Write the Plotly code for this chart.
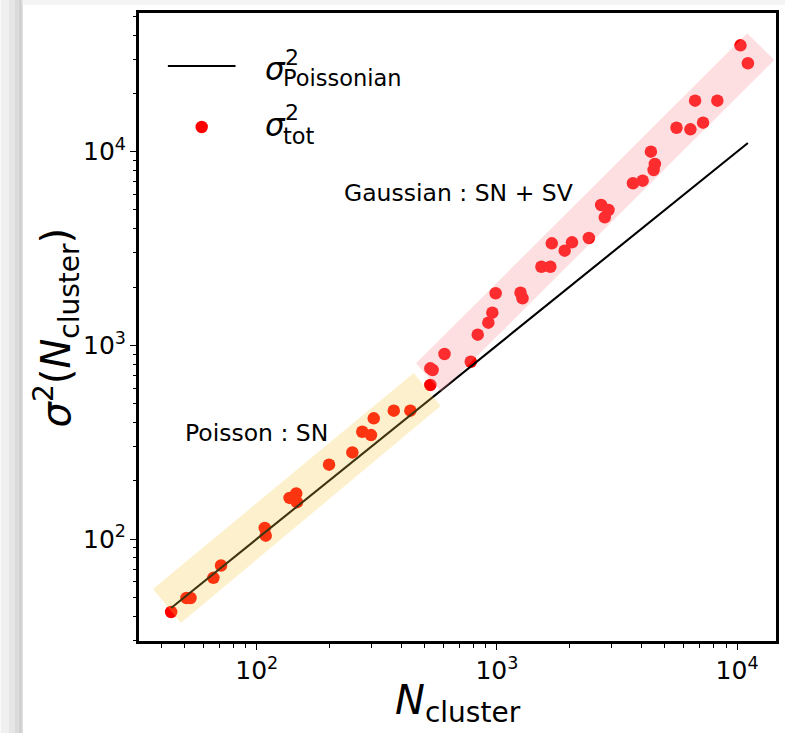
import numpy as np
import plotly.graph_objects as go

# Cluster counts and measured total variances
n_cluster = [44, 51, 53, 66, 71, 108, 109, 137, 146, 147, 200, 250, 275, 299, 307,
             372, 436, 528, 528, 540, 605,
             778, 832, 921, 957, 988, 1254, 1278, 1532, 1669, 1692, 1915, 2054,
             2415, 2716, 2915, 2813, 3686, 4044, 4377, 4547, 4491, 5594, 6392,
             6686, 7217, 8273, 10330, 11090]
sigma2_tot = [42, 49.6, 49.6, 63, 73, 114, 104, 163, 172, 155, 242, 280, 358, 344, 420,
              460, 460, 624, 761, 746, 902,
              823, 1135, 1309, 1475, 1857, 1870, 1750, 2547, 2547, 3365, 3083, 3405,
              3584, 5306, 5000, 4583, 6868, 7083, 10000, 8640, 8045, 13300, 13050,
              18340, 14120, 18340, 35430, 28610]

# Poisson expectation: variance equals the mean count
n_line = sorted(n_cluster)
sigma2_poisson = list(n_line)

regime_labels = ["Poisson : SN", "Gaussian : SN + SV"]
legend_subscripts = ["Poissonian", "tot"]

# Figure geometry (pixels)
W, H = 788, 733
L, R, T, B = 139, 779, 13, 641
PW, PH = R - L, B - T

def px(x):
    return (x - L) / PW

def py(y):
    return (B - y) / PH

FONT = "DejaVu Sans"

# Shaded regime bands, corners in log10 units (x, y)
band_poisson = [(1.5678, 1.7418), (1.6838, 1.5662), (2.7655, 2.6868), (2.6535, 2.8572)]
band_gauss = [(2.6631, 2.9073), (2.7683, 2.7607), (4.155, 4.4735), (4.0418, 4.6114)]

def band_trace(corners, color):
    xs = [10 ** c[0] for c in corners] + [10 ** corners[0][0]]
    ys = [10 ** c[1] for c in corners] + [10 ** corners[0][1]]
    return go.Scatter(x=xs, y=ys, mode="lines", fill="toself", fillcolor=color,
                      line=dict(width=0), hoverinfo="skip", showlegend=False)

fig = go.Figure()
fig.add_trace(go.Scatter(x=n_cluster, y=sigma2_tot, mode="markers",
                         marker=dict(color="red", size=12.5, line=dict(width=0)),
                         showlegend=False))
fig.add_trace(go.Scatter(x=n_line, y=sigma2_poisson, mode="lines",
                         line=dict(color="black", width=2.1), showlegend=False))
fig.add_trace(band_trace(band_poisson, "rgba(247,200,60,0.26)"))
fig.add_trace(band_trace(band_gauss, "rgba(247,150,157,0.30)"))

axis_common = dict(type="log", dtick=1, exponentformat="power", showgrid=False,
                   zeroline=False, showline=True, linecolor="black", linewidth=3,
                   mirror=True, ticks="outside", ticklen=6, tickwidth=1.3,
                   tickcolor="black", tickfont=dict(family=FONT, size=20, color="black"),
                   minor=dict(ticks="outside", ticklen=3.5, tickwidth=1,
                              tickcolor="black", dtick="D1", showgrid=False))

fig.update_layout(
    width=W, height=H, autosize=False,
    margin=dict(l=L, r=W - R, t=T, b=H - B),
    paper_bgcolor="white", plot_bgcolor="white",
    xaxis=dict(range=[1.5097, 4.1620], **axis_common),
    yaxis=dict(range=[1.4733, 4.7162], **axis_common),
    font=dict(family=FONT, color="black"),
)

ann = []
# axis titles
ann.append(dict(text="<i>σ</i><sup>2</sup>(<i>N</i><sub>cluster</sub>)",
                x=px(56), y=py(327), xref="paper", yref="paper", textangle=-90,
                showarrow=False, xanchor="center", yanchor="middle",
                font=dict(family=FONT, size=40)))
ann.append(dict(text="<i>N</i><sub>cluster</sub>", x=px(460), y=py(703),
                xref="paper", yref="paper", showarrow=False,
                xanchor="center", yanchor="middle", font=dict(family=FONT, size=40)))
# regime labels
ann.append(dict(text=regime_labels[0], x=px(183), y=py(433), xref="paper", yref="paper",
                showarrow=False, xanchor="left", yanchor="middle",
                font=dict(family=FONT, size=23.5)))
ann.append(dict(text=regime_labels[1], x=px(577), y=py(193), xref="paper", yref="paper",
                showarrow=False, xanchor="right", yanchor="middle",
                font=dict(family=FONT, size=23.5)))

# legend entries: sigma symbol with stacked super/subscript
for (sym_y, sup_y, sub_y), sub in zip([(69, 57.5, 78), (125, 112.5, 136)],
                                      legend_subscripts):
    ann.append(dict(text="<i>σ</i>", x=px(276), y=py(sym_y), xref="paper", yref="paper",
                    showarrow=False, xanchor="center", yanchor="middle",
                    font=dict(family=FONT, size=31)))
    ann.append(dict(text="2", x=px(284), y=py(sup_y), xref="paper", yref="paper",
                    showarrow=False, xanchor="left", yanchor="middle",
                    font=dict(family=FONT, size=22)))
    ann.append(dict(text=sub, x=px(282), y=py(sub_y), xref="paper", yref="paper",
                    showarrow=False, xanchor="left", yanchor="middle",
                    font=dict(family=FONT, size=22.5)))

shapes = []
# legend line sample
shapes.append(dict(type="line", xref="paper", yref="paper", x0=px(168), x1=px(236),
                   y0=py(66), y1=py(66), line=dict(color="black", width=2.1)))
# legend marker sample
shapes.append(dict(type="circle", xref="paper", yref="paper", xsizemode="pixel",
                   ysizemode="pixel", xanchor=px(202), yanchor=py(127),
                   x0=-6.2, x1=6.2, y0=-6.2, y1=6.2, fillcolor="red",
                   line=dict(width=0)))
# page shadow at the left/top edge
shade = [(0, 8, "#f0f0f0"), (8, 14, "#e6e6e6"), (14, 18, "#dadada"), (18, 21, "#cfcfcf"),
         (21, 22, "#c4c4c4")]
for x0, x1, c in shade:
    shapes.append(dict(type="rect", xref="paper", yref="paper", x0=px(x0), x1=px(x1),
                       y0=py(H), y1=py(0), fillcolor=c, line=dict(width=0), layer="above"))
shapes.append(dict(type="rect", xref="paper", yref="paper", x0=px(22), x1=px(W),
                   y0=py(5), y1=py(0), fillcolor="#f4f4f4", line=dict(width=0),
                   layer="above"))

fig.update_layout(annotations=ann, shapes=shapes)
fig.write_html("out.html")
